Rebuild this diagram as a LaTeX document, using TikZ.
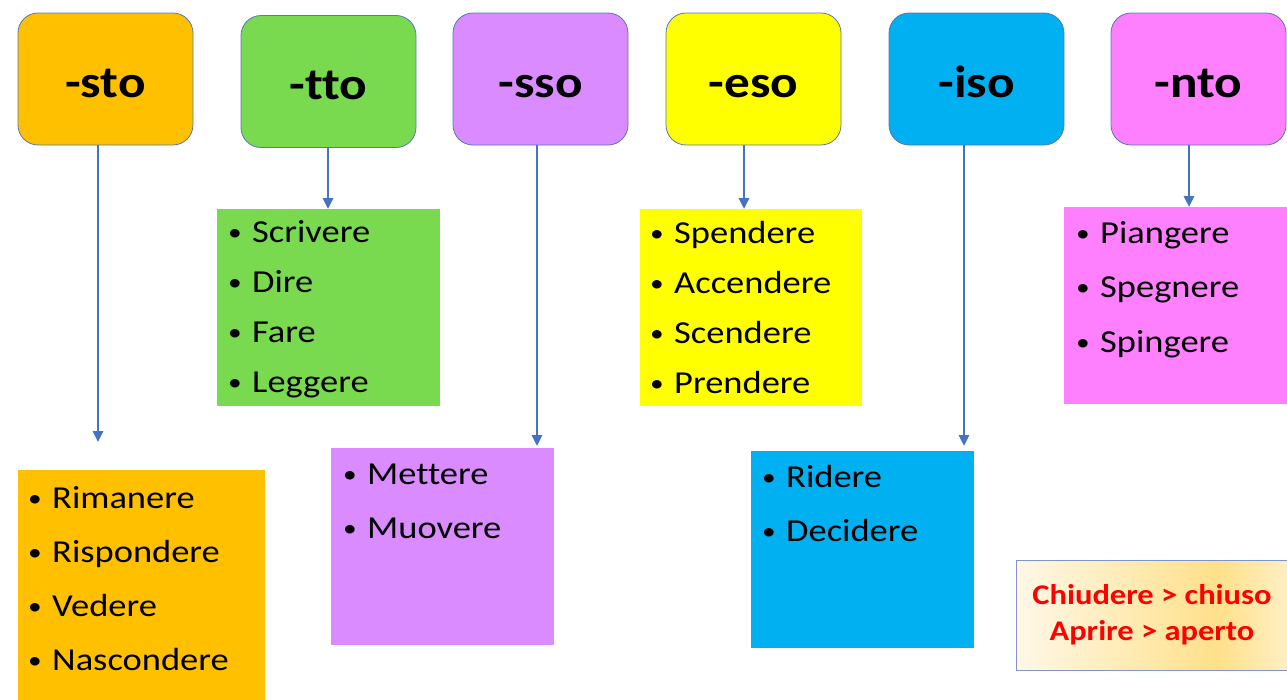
\documentclass[tikz,border=0pt]{standalone}
\usepackage{fontspec}
\setmainfont{Carlito}[FakeStretch=1.14,Ligatures=NoCommon]
\usetikzlibrary{arrows.meta}

\definecolor{stoc}{HTML}{FFC000}
\definecolor{ttoc}{HTML}{79DA4F}
\definecolor{ssoc}{HTML}{D98BFF}
\definecolor{esoc}{HTML}{FFFF00}
\definecolor{isoc}{HTML}{00B0F0}
\definecolor{ntoc}{HTML}{FF80FF}
\definecolor{hdrline}{HTML}{5A77B5}
\definecolor{linkc}{HTML}{4472C4}
\definecolor{notea}{HTML}{FFF8E8}
\definecolor{noteb}{HTML}{FFE08A}
\definecolor{notec}{HTML}{FFEFC2}
\definecolor{noteline}{HTML}{7F95C8}

\pgfdeclarehorizontalshading{notefill}{100bp}{color(0bp)=(notea); color(25bp)=(notea);
  color(62bp)=(noteb); color(75bp)=(notec); color(100bp)=(notec)}

\newcommand{\verbo}[1]{\makebox[24pt][l]{\fontsize{24}{24}\selectfont\raisebox{2pt}{•}}#1}

\begin{document}
\begin{tikzpicture}
    [x=1pt,y=-1pt,
    ending/.style={rectangle,rounded corners=20pt,draw=hdrline,thick,fill=#1,
    inner sep=0pt,minimum width=175pt,minimum height=132pt,
    font=\fontsize{45}{50}\selectfont\bfseries,text height=36pt,text depth=0pt},
    verbs/.style={rectangle,fill=#1,inner sep=0pt},
    words/.style={anchor=base west,inner sep=0pt,text width=215pt,align=left,
    font=\fontsize{32}{#1}\selectfont},
    link/.style={draw=linkc,line width=2.6pt,-{Triangle[length=11pt,width=10pt]}},
    note/.style={rectangle,draw=noteline,thick,shade,shading=notefill,
    minimum width=272pt,minimum height=110pt,align=center,text=red,
    font=\fontsize{28.5}{36}\selectfont\bfseries}]
    \useasboundingbox (0,0) rectangle (1287,699);
    % endings
    \node (sto) [ending=stoc] at ( 105.5,79) {-sto};
    \node (tto) [ending=ttoc] at ( 328.5,81.5) {-tto};
    \node (sso) [ending=ssoc] at ( 540.5,79) {-sso};
    \node (eso) [ending=esoc] at ( 753.5,79) {-eso};
    \node (iso) [ending=isoc] at ( 976.5,79) {-iso};
    \node (nto) [ending=ntoc] at (1198.5,79) {-nto};
    % verb boxes
    \node (tto list) [verbs=ttoc,minimum width=223pt,minimum height=197pt] at ( 328.5,307.5) {};
    \node (eso list) [verbs=esoc,minimum width=222pt,minimum height=197pt] at ( 751,307.5) {};
    \node (nto list) [verbs=ntoc,minimum width=223pt,minimum height=197pt] at (1175.5,305.5) {};
    \node (sto list) [verbs=stoc,minimum width=247pt,minimum height=230pt] at ( 141.5,585) {};
    \node (sso list) [verbs=ssoc,minimum width=223pt,minimum height=197pt] at ( 442.5,546.5) {};
    \node (iso list) [verbs=isoc,minimum width=223pt,minimum height=197pt] at ( 862.5,549.5) {};
    \node (tto words) [words=50] at ( 228,242) {\verbo{Scrivere}\\\verbo{Dire}\\\verbo{Fare}\\\verbo{Leggere}};
    \node (eso words) [words=50] at ( 650,243) {\verbo{Spendere}\\\verbo{Accendere}\\\verbo{Scendere}\\\verbo{Prendere}};
    \node (nto words) [words=54.5] at (1076,243) {\verbo{Piangere}\\\verbo{Spegnere}\\\verbo{Spingere}};
    \node (sto words) [words=54] at (  28,508) {\verbo{Rimanere}\\\verbo{Rispondere}\\\verbo{Vedere}\\\verbo{Nascondere}};
    \node (sso words) [words=54] at ( 343,484) {\verbo{Mettere}\\\verbo{Muovere}};
    \node (iso words) [words=54] at ( 762,487) {\verbo{Ridere}\\\verbo{Decidere}};
    % irregular ones
    \node (rule note) [note] at (1152,615) {Chiudere > chiuso\\Aprire > aperto};
    % arrows
    \foreach \h/\x/\y in {sto/98/442,tto/328/209,sso/537/446,eso/744/209,iso/964/446,nto/1189/207}
    {
        \coordinate (\h tip) at (\x,\y);
        \draw[link] (\h tip |- \h.south) -- (\h tip);
    }
\end{tikzpicture}
\end{document}
